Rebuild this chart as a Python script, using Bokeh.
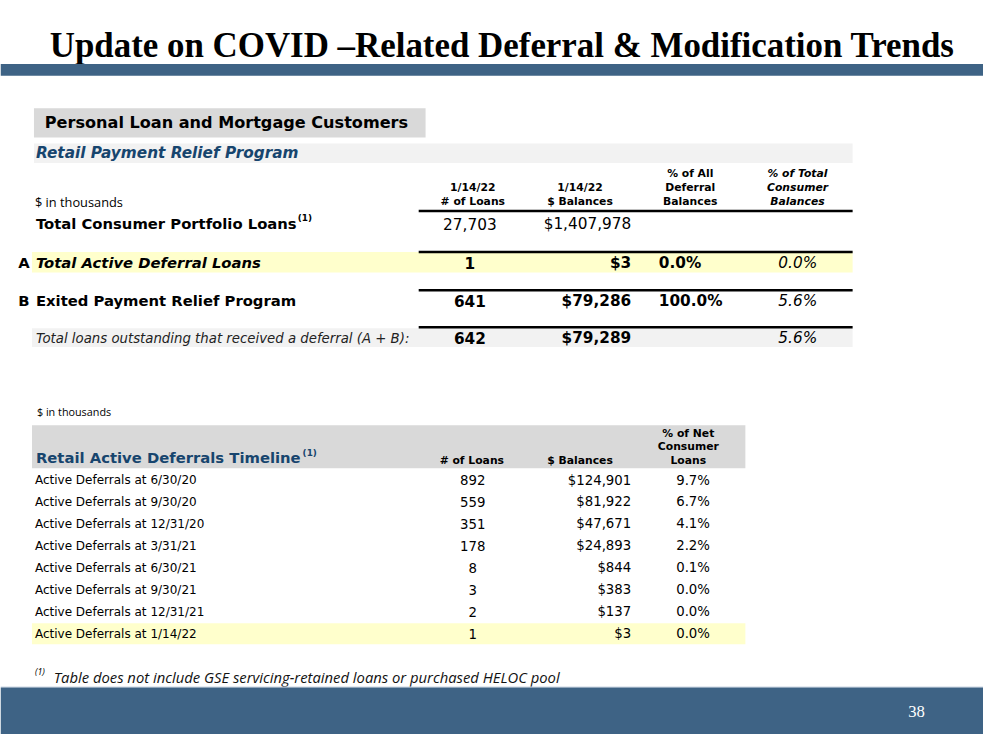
from bokeh.plotting import figure
from bokeh.models import Range1d
from bokeh.embed import file_html
from bokeh.resources import INLINE
from bokeh.core.properties import value

# ---------------- data ----------------
title = "Update on COVID \u2013Related Deferral & Modification Trends"
section_title = "Personal Loan and Mortgage Customers"
program_title = "Retail Payment Relief Program"

top_prefix = ["", "A", "B", ""]
top_labels = ["Total Consumer Portfolio Loans", "Total Active Deferral Loans",
              "Exited Payment Relief Program",
              "Total loans outstanding that received a deferral (A + B):"]
top_loans = [27703, 1, 641, 642]
top_balances = [1407978, 3, 79286, 79289]
top_pct_deferral = [None, 0.0, 100.0, None]
top_pct_consumer = [None, 0.0, 5.6, 5.6]

timeline_dates = ["6/30/20", "9/30/20", "12/31/20", "3/31/21", "6/30/21",
                  "9/30/21", "12/31/21", "1/14/22"]
timeline_loans = [892, 559, 351, 178, 8, 3, 2, 1]
timeline_balances = [124901, 81922, 47671, 24893, 844, 383, 137, 3]
timeline_pct = [9.7, 6.7, 4.1, 2.2, 0.1, 0.0, 0.0, 0.0]

footnote = "Table does not include GSE servicing-retained loans or purchased HELOC pool"
page_number = "38"

# ---------------- styles ----------------
BLUE_BAR = "#3e6385"
BLUE_TXT = "#17456e"
YELLOW = "#ffffcc"
LGRAY = "#f2f2f2"
MGRAY = "#d9d9d9"
SANS = "DejaVu Sans"
SERIF = "Liberation Serif"

W, H = 983, 734
S = W / 999.0
p = figure(width=W, height=H, x_range=Range1d(0, 999), y_range=Range1d(750, 0),
           output_backend="svg", toolbar_location=None, min_border=0)
p.axis.visible = False
p.grid.visible = False
p.outline_line_color = None
p.background_fill_color = "white"
p.border_fill_color = "white"


def fs(n):
    return "%.1fpx" % (n * S)


def txt(x, y, texts, size, font=SANS, style="normal", color="black", align="left",
        baseline="middle"):
    if not isinstance(x, list):
        x = [x] * len(texts)
    if not isinstance(y, list):
        y = [y] * len(texts)
    p.text(x=x, y=y, text=texts, text_font=value(font), text_font_size=fs(size),
           text_font_style=style, text_color=color, text_align=align,
           text_baseline=baseline)


def box(l, r, t, b, color):
    p.quad(left=[l], right=[r], top=[t], bottom=[b], fill_color=color, line_color=None)


def hline(x0, x1, y, w=2.5):
    p.segment(x0=[x0], x1=[x1], y0=[y], y1=[y], line_color="black", line_width=w)


def fmt_money(v):
    return "${:,}".format(v)


# ---------------- header ----------------
txt(50, 46, [title], 35.5, font=SERIF, style="bold")
box(0, 1000, 65, 77, BLUE_BAR)

# ---------------- top table ----------------
box(34, 432, 110, 140, MGRAY)
txt(45, 125, [section_title], 16.4, style="bold")
box(34, 866, 146, 166, LGRAY)
txt(36, 156, [program_title], 15.5, style="bold italic", color=BLUE_TXT)

txt(35, 206, ["$ in thousands"], 13, font="Open Sans")
HF = 11
txt(480, 191, ["1/14/22"], HF, style="bold", align="center")
txt(480, 205, ["# of Loans"], HF, style="bold", align="center")
txt(589, 191, ["1/14/22"], HF, style="bold", align="center")
txt(589, 205, ["$ Balances"], HF, style="bold", align="center")
txt(701, [177, 191, 205], ["% of All", "Deferral", "Balances"], HF, style="bold", align="center")
txt(810, [177, 191, 205], ["% of Total", "Consumer", "Balances"], HF, style="bold italic", align="center")
hline(425, 866, 215)

top_y = [228, 268, 307, 345]
box(32, 866, 257, 278, YELLOW)
box(32, 866, 335, 354, LGRAY)
hline(425, 866, 257)
hline(425, 866, 296)
hline(425, 866, 334)

txt(18, [top_y[1], top_y[2]], [top_prefix[1], top_prefix[2]], 15, style="bold")
txt(36, top_y[0], [top_labels[0]], 15, style="bold")
txt(302, top_y[0] - 6, ["(1)"], 9, style="bold")
txt(36, top_y[1], [top_labels[1]], 15, style="bold italic")
txt(36, top_y[2], [top_labels[2]], 15, style="bold")
txt(36, top_y[3], [top_labels[3]], 13.5, style="italic", color="#222222")

loan_txt = ["{:,}".format(v) for v in top_loans]
bal_txt = [fmt_money(v) for v in top_balances]
txt(477, top_y[0], [loan_txt[0]], 15.5, align="center")
txt(641, top_y[0], [bal_txt[0]], 15.5, align="right")
txt(477, top_y[1:], loan_txt[1:], 15.5, style="bold", align="center")
txt(641, top_y[1:], bal_txt[1:], 15.5, style="bold", align="right")
pd_y = [y for y, v in zip(top_y, top_pct_deferral) if v is not None]
pd_t = ["{:.1f}%".format(v) for v in top_pct_deferral if v is not None]
txt(669, pd_y, pd_t, 15.5, style="bold", align="left")
pc_y = [y for y, v in zip(top_y, top_pct_consumer) if v is not None]
pc_t = ["{:.1f}%".format(v) for v in top_pct_consumer if v is not None]
txt(830, pc_y, pc_t, 15.5, style="italic", align="right")

# ---------------- timeline table ----------------
txt(37, 420, ["$ in thousands"], 11, font="Open Sans")
box(32, 757, 434, 478, MGRAY)
txt(36, 467, ["Retail Active Deferrals Timeline"], 15, style="bold", color=BLUE_TXT)
txt(307, 462, ["(1)"], 9, style="bold", color=BLUE_TXT)
txt(479, 470, ["# of Loans"], HF, style="bold", align="center")
txt(589, 470, ["$ Balances"], HF, style="bold", align="center")
txt(699, [442, 456, 470], ["% of Net", "Consumer", "Loans"], HF, style="bold", align="center")

n = len(timeline_dates)
row_y = [490 + i * 22.4 for i in range(n)]
box(32, 757, row_y[-1] - 10.5, row_y[-1] + 11, YELLOW)
txt(35, row_y, ["Active Deferrals at " + d for d in timeline_dates], 12.2)
txt(480, row_y, ["{:,}".format(v) for v in timeline_loans], 13.5, align="center")
txt(641, row_y, [fmt_money(v) for v in timeline_balances], 13.5, align="right")
txt(721, row_y, ["{:.1f}%".format(v) for v in timeline_pct], 13.5, align="right")

# ---------------- footnote & footer ----------------
txt(35, 686, ["(1)"], 9, font="Open Sans", style="italic")
txt(54, 691, [footnote], 15, font="Open Sans", style="italic", color="#111111")
box(0, 1000, 701, 702, "#c9d6e3")
box(0, 1000, 702, 750, BLUE_BAR)
txt(931, 727, [page_number], 17, font=SERIF, color="white", align="center")

open("out.html", "w").write(file_html(p, INLINE))
